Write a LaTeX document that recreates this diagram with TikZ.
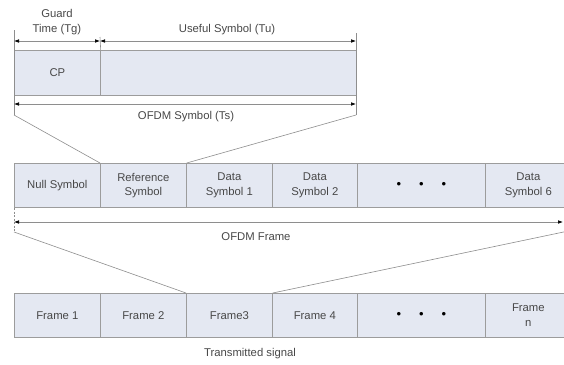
\documentclass[tikz,border=0pt]{standalone}
\usepackage{fontspec}
\setmainfont{Liberation Sans}
\usetikzlibrary{arrows.meta}
\definecolor{boxfill}{HTML}{E4E8F2}
\definecolor{boxline}{HTML}{9C9C9C}
\definecolor{txt}{HTML}{484848}
\definecolor{ln}{HTML}{8E8E8E}
\begin{document}
\begin{tikzpicture}[x=1pt,y=-1pt,
  every node/.style={font=\fontsize{11.3}{14.5}\selectfont, text=txt, align=center},
  cell/.style={draw=boxline, fill=boxfill, line width=0.7pt, anchor=north west, inner sep=0pt},
  topcell/.style={cell, minimum height=45pt},
  rowcell/.style={cell, minimum height=44pt},
  guide/.style={draw=ln, line width=0.6pt},
  dim/.style={draw=ln, line width=0.6pt, {Latex[length=5pt,width=3.6pt,black]}-{Latex[length=5pt,width=3.6pt,black]}},
  lbl/.style={inner sep=1pt},
  dotrow/.style={font=\fontsize{13}{14}\selectfont, text=black}
]
\useasboundingbox (0,0) rectangle (564,364);
\clip (0,0) rectangle (564,364);
\fill[white] (0,0) rectangle (564,364);

% ---- OFDM symbol
\node[topcell, minimum width=86pt] (cp) at (14,50) {CP};
\node[topcell, minimum width=256pt] (tu) at (100,50) {};

\coordinate (glt) at (14,30);
\coordinate (glb) at (14,115);
\coordinate (grt) at (356,33);
\coordinate (grb) at (356,115);
\coordinate (cpt) at (100,37);
\draw[guide] (glt) -- (glb);
\draw[guide] (grt) -- (grb);
\draw[guide] (cpt) -- (cp.north east);

\coordinate (ga1) at (14,41);
\coordinate (ga2) at (100,41);
\coordinate (ua2) at (356,41);
\draw[dim] (ga1) -- (ga2);
\draw[dim] (ga2) -- (ua2);
\coordinate (ts1) at (14,104);
\coordinate (ts2) at (356,104);
\draw[dim] (ts1) -- (ts2);

\node[lbl] (lg) at (57,22) {Guard\\Time (Tg)};
\node[lbl] (lu) at (227,30) {Useful Symbol (Tu)};
\node[lbl] (lts) at (186,117) {OFDM Symbol (Ts)};

% ---- OFDM frame
\node[rowcell, minimum width=86pt] (null) at (14,163) {Null Symbol};
\node[rowcell, minimum width=86pt] (ref) at (100,163) {Reference\\Symbol};
\node[rowcell, minimum width=86pt] (d1) at (186,163) {Data\\Symbol 1};
\node[rowcell, minimum width=85pt] (d2) at (272,163) {Data\\Symbol 2};
\node[rowcell, minimum width=128pt, dotrow] (mdots) at (357,163) {\textbullet\hspace{18pt}\textbullet\hspace{18pt}\textbullet};
\node[rowcell, minimum width=86pt] (d6) at (485,163) {Data\\Symbol 6};

\draw[guide] (glb) -- (ref.north west);
\draw[guide] (grb) -- (ref.north east);

\coordinate (flt) at (14,208);
\coordinate (flb) at (14,232);
\draw[guide, dashed, dash pattern=on 2pt off 1.5pt] (flt) -- (flb);
\coordinate (fa1) at (14,222);
\coordinate (fa2) at (563,222);
\draw[dim] (fa1) -- (fa2);
\coordinate (frb) at (566,231.5);
\node[lbl] (lf) at (256,237) {OFDM Frame};

% ---- transmitted signal
\node[rowcell, minimum width=86pt] (f1) at (14,293) {Frame 1};
\node[rowcell, minimum width=86pt] (f2) at (100,293) {Frame 2};
\node[rowcell, minimum width=86pt] (f3) at (186,293) {Frame3};
\node[rowcell, minimum width=85pt] (f4) at (272,293) {Frame 4};
\node[rowcell, minimum width=128pt, dotrow] (bdots) at (357,293) {\textbullet\hspace{18pt}\textbullet\hspace{18pt}\textbullet};
\node[rowcell, minimum width=86pt] (fn) at (485,293) {Frame\\n};

\draw[guide] (flb) -- (f3.north west);
\draw[guide] (frb) -- (f3.north east);

\node[lbl] (lt) at (250,354) {Transmitted signal};
\end{tikzpicture}
\end{document}
